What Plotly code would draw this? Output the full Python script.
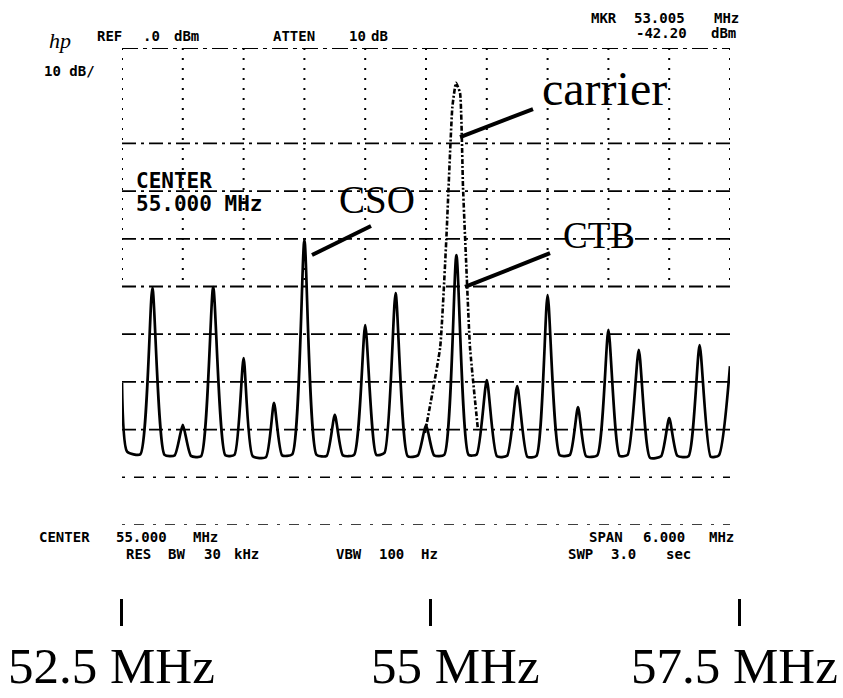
import plotly.graph_objects as go

# ---- spectrum analyser screen (52-58 MHz, 0 dBm ref, 10 dB/div) ----
# solid trace: carrier off, distortion products visible (MHz, dBm)
trace_mhz = [52.00, 52.05, 52.18, 52.30, 52.42, 52.52, 52.60, 52.68, 52.78, 52.90,
             53.02, 53.11, 53.20, 53.29, 53.42, 53.50, 53.58, 53.68, 53.80, 53.92,
             54.02, 54.10, 54.18, 54.29, 54.40, 54.51, 54.59, 54.70, 54.82, 54.92,
             55.00, 55.08, 55.18, 55.30, 55.42, 55.50, 55.60, 55.70, 55.80, 55.90,
             56.00, 56.09, 56.20, 56.32, 56.42, 56.50, 56.58, 56.69, 56.80, 56.91,
             56.99, 57.10, 57.21, 57.32, 57.40, 57.48, 57.59, 57.70, 57.81, 57.89,
             58.00]
trace_dbm = [-70.2, -84.6, -85.2, -50.3, -85.3, -85.4, -79.0, -85.5, -85.6, -50.1,
             -85.4, -85.3, -65.0, -85.6, -85.8, -74.4, -85.4, -85.2, -40.3, -85.3,
             -85.5, -76.9, -85.4, -85.3, -58.1, -85.3, -84.9, -51.4, -85.6, -85.4,
             -79.0, -85.4, -85.3, -43.4, -85.3, -85.2, -69.6, -85.6, -85.5, -70.9,
             -85.7, -85.5, -51.8, -85.4, -85.3, -75.3, -85.6, -85.4, -59.1, -85.5,
             -85.3, -63.3, -85.9, -85.6, -77.6, -85.5, -85.6, -62.3, -85.7, -85.4,
             -66.7]

# dotted trace: carrier on
carrier_mhz = [54.99, 55.14, 55.20, 55.26, 55.296, 55.336, 55.365, 55.395, 55.434, 55.513]
carrier_dbm = [-80.7, -62.7, -40.3, -12.4, -7.3, -9.4, -29.1, -44.4, -62.7, -80.1]

# labelled products: (label, MHz, dBm)
labels = [("carrier", 55.296, -7.3), ("CSO", 53.80, -40.3), ("CTB", 55.30, -43.4)]

# frequency markers drawn under the screen
marker_mhz = [52.5, 55.0, 57.5]
marker_text = ["52.5 MHz", "55 MHz", "57.5 MHz"]
marker_label_shift = [-10, 25, -5]

# graticule
f_start, f_stop = 52.0, 58.0
ref_dbm, bottom_dbm = 0.0, -100.0
div_x = [52.0 + 0.6 * k for k in range(11)]
div_y = [-10.0 * k for k in range(11)]

W, H = 843, 698
SCR_L, SCR_R, SCR_T, SCR_B = 122, 730, 48, 525


def px(x):
    return x / W


def py(y):
    return 1 - y / H


fig = go.Figure()

fig.add_trace(go.Scatter(
    x=trace_mhz, y=trace_dbm, mode="lines",
    line=dict(color="black", width=2.7, shape="spline", smoothing=0.55),
    showlegend=False, hoverinfo="skip"))

fig.add_trace(go.Scatter(
    x=carrier_mhz, y=carrier_dbm, mode="lines",
    line=dict(color="black", width=2.6, dash="5px,2px,2px,2px", shape="spline", smoothing=0.4),
    showlegend=False, hoverinfo="skip"))

# invisible trace carrying the marker axis underneath
fig.add_trace(go.Scatter(
    x=marker_mhz, y=[None] * len(marker_mhz), xaxis="x2", yaxis="y",
    mode="markers", showlegend=False, hoverinfo="skip"))

shapes = []
# horizontal graticule lines
for d in div_y:
    if d == -10.0:
        continue
    if d == 0.0:
        dash, w = "16px,5px,4px,5px", 2.0
    elif d in (-90.0, -100.0):
        dash, w = "3px,9px,10px,9px", 1.6
    else:
        dash, w = "14px,5px,3px,5px", 1.8
    shapes.append(dict(type="line", xref="x", yref="y", x0=f_start, x1=f_stop,
                       y0=d, y1=d, line=dict(color="black", width=w, dash=dash)))
# vertical graticule lines (upper half of the screen)
for f in div_x:
    shapes.append(dict(type="line", xref="x", yref="y", x0=f, x1=f,
                       y0=ref_dbm, y1=-50.0,
                       line=dict(color="black", width=2.0, dash="2px,8px")))

# leader lines from labels to their peaks
leader = {"carrier": ((0.04, -11.4), (0.76, -5.5)),
          "CSO": ((0.075, -3.1), (0.657, 3.0)),
          "CTB": ((0.085, -6.7), (0.924, 0.4))}
for name, f, d in labels:
    (a, b), (c, e) = leader[name]
    shapes.append(dict(type="line", xref="x", yref="y", x0=f + a, y0=d + b,
                       x1=f + c, y1=d + e, line=dict(color="black", width=4)))

ann = []
serif = "Liberation Serif, Times New Roman, serif"
mono = "DejaVu Sans Mono, monospace"

label_pos = {"carrier": (540, 89, 48), "CSO": (337, 199, 39), "CTB": (561, 235, 37)}
for name, f, d in labels:
    x, y, s = label_pos[name]
    ann.append(dict(text=name, x=px(x), y=py(y), xref="paper", yref="paper",
                    xanchor="left", yanchor="middle", showarrow=False,
                    font=dict(family=serif, size=s, color="black")))

# instrument readouts
readouts = [
    ("REF", 95, 36), (".0", 141, 36), ("dBm", 172, 36),
    ("ATTEN", 271, 36), ("10", 347, 36), ("dB", 369, 36),
    ("MKR", 589, 18), ("53.005", 632, 18), ("MHz", 712, 18),
    ("-42.20", 634, 33), ("dBm", 709, 33),
    ("10 dB/", 42, 71),
    ("CENTER", 37, 537), ("55.000", 114, 537), ("MHz", 191, 537),
    ("SPAN", 587, 537), ("6.000", 641, 537), ("MHz", 707, 537),
    ("RES", 124, 554), ("BW", 166, 554), ("30", 202, 554), ("kHz", 232, 554),
    ("VBW", 334, 554), ("100", 377, 554), ("Hz", 419, 554),
    ("SWP", 566, 554), ("3.0", 609, 554), ("sec", 664, 554),
]
for t, x, y in readouts:
    ann.append(dict(text=t, x=px(x), y=py(y), xref="paper", yref="paper",
                    xanchor="left", yanchor="middle", showarrow=False,
                    font=dict(family=mono, size=14, color="black", weight="bold")))

for t, y in [("CENTER", 181), ("55.000 MHz", 204)]:
    ann.append(dict(text=t, x=px(134), y=py(y), xref="paper", yref="paper",
                    xanchor="left", yanchor="middle", showarrow=False,
                    font=dict(family=mono, size=21, color="black", weight="bold")))

ann.append(dict(text="<i>hp</i>", x=px(60), y=py(40), xref="paper", yref="paper",
                xanchor="center", yanchor="middle", showarrow=False,
                font=dict(family=serif, size=22, color="black")))

# frequency marker labels under the tick marks
for f, t, sh in zip(marker_mhz, marker_text, marker_label_shift):
    ann.append(dict(text=t, x=f, y=py(666), xref="x2", yref="paper",
                    xanchor="center", yanchor="middle", xshift=sh, showarrow=False,
                    font=dict(family=serif, size=51, color="black")))

# marker axis scale: 52.5 MHz at x=121 px, 57.5 MHz at x=739 px
scale = (739 - 121) / (marker_mhz[-1] - marker_mhz[0])
m0 = marker_mhz[0] - 121 / scale
m1 = m0 + W / scale

fig.update_layout(
    width=W, height=H,
    margin=dict(l=0, r=0, t=0, b=0),
    paper_bgcolor="white", plot_bgcolor="rgba(0,0,0,0)",
    xaxis=dict(domain=[px(SCR_L), px(SCR_R)], range=[f_start, f_stop], visible=False),
    yaxis=dict(domain=[py(SCR_B), py(SCR_T)], range=[bottom_dbm, ref_dbm], visible=False),
    xaxis2=dict(domain=[0, 1], range=[m0, m1], anchor="free", position=py(598),
                tickvals=marker_mhz, showticklabels=False,
                ticks="outside", ticklen=27, tickwidth=2.5, tickcolor="black",
                showline=False, showgrid=False, zeroline=False),
    shapes=shapes, annotations=ann,
)

fig.write_html("out.html")
